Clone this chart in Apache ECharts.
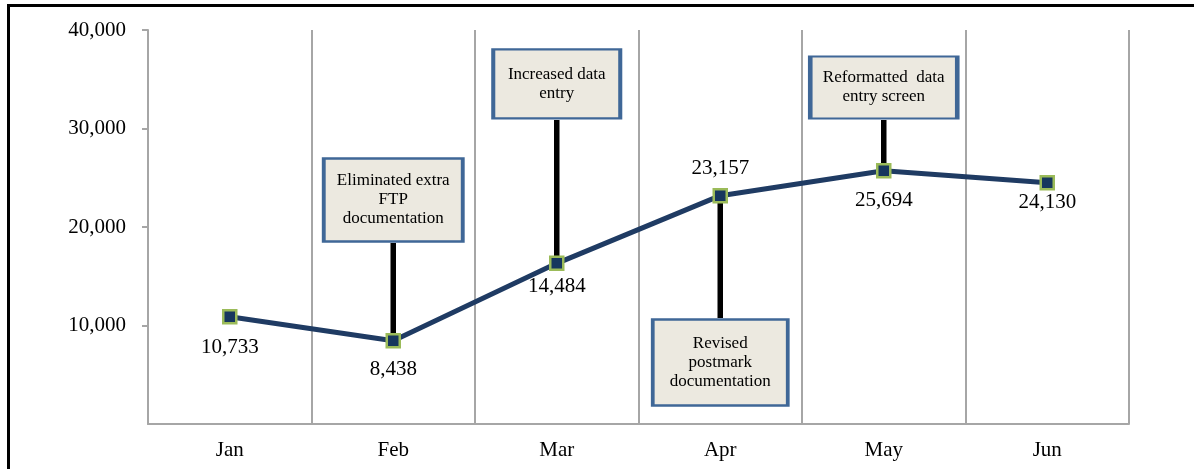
<!DOCTYPE html>
<html>
<head>
<meta charset="utf-8">
<script src="https://cdn.jsdelivr.net/npm/echarts@6/dist/echarts.min.js"></script>
<style>
  html, body { margin: 0; padding: 0; background: #fff; overflow: hidden; }
  #main { width: 1194px; height: 469px; }
  #frame { position: absolute; left: 7px; top: 4px; width: 1300px; height: 600px;
           border-left: 3px solid #000; border-top: 3px solid #000; pointer-events: none; }
</style>
</head>
<body>
<div id="main"></div>
<div id="frame"></div>
<script>
// data
var months = ['Jan', 'Feb', 'Mar', 'Apr', 'May', 'Jun'];
var values = [10890, 8460, 16310, 23180, 25720, 24500];
var valueLabels = ['10,733', '8,438', '14,484', '23,157', '25,694', '24,130'];
var yTicks = [10000, 20000, 30000, 40000];

// call-out notes
var noteMonths = ['Feb', 'Mar', 'Apr', 'May'];
var noteTexts = [
  'Eliminated extra\nFTP\ndocumentation',
  'Increased data\nentry',
  'Revised\npostmark\ndocumentation',
  'Reformatted  data\nentry screen'
];
var noteEnds = [18380, 30860, 10760, 30860];      // where the stick meets the box
var noteCenters = [22740, 34520, 6240, 34160];    // middle of the box

var font = '"Liberation Serif", "Times New Roman", serif';
var gray = '#A6A6A6';

// label placement / box size, per point and per note
var labelPos = ['bottom', 'bottom', 'bottom', 'top', 'bottom', 'bottom'];
var labelGap = [13, 11, 5, 9, 12, 2];
var noteSizes = [[139, 83], [127, 69], [135, 86], [147, 62]];

var myChart = echarts.init(document.getElementById('main'));

var lineData = [];
for (var i = 0; i < values.length; i++) {
  lineData.push({
    value: values[i],
    label: { position: labelPos[i], distance: labelGap[i] }
  });
}

var notePoints = [];
for (var j = 0; j < noteMonths.length; j++) {
  notePoints.push({
    name: noteTexts[j],
    coord: [noteMonths[j], noteCenters[j]],
    symbolSize: noteSizes[j]
  });
}

var seriesList = [];
// black sticks from the points to the notes
for (var k = 0; k < noteMonths.length; k++) {
  var m = noteMonths[k];
  seriesList.push({
    type: 'line',
    data: [[m, values[months.indexOf(m)]], [m, noteEnds[k]]],
    symbol: 'none',
    silent: true,
    z: 1,
    lineStyle: { color: '#000', width: 5.5 }
  });
}

seriesList.push({
  type: 'line',
  data: lineData,
  z: 3,
  symbol: 'rect',
  symbolSize: 13,
  itemStyle: { color: '#17375E', borderColor: '#9BBB59', borderWidth: 2.5 },
  lineStyle: { color: '#1F3B63', width: 5 },
  label: {
    show: true,
    color: '#000',
    fontFamily: font,
    fontSize: 21,
    formatter: function(p) { return valueLabels[p.dataIndex]; }
  },
  markPoint: {
    symbol: 'rect',
    silent: true,
    itemStyle: { color: '#ECE9E0', borderColor: '#3F6797', borderWidth: 3 },
    label: {
      show: true,
      position: 'inside',
      formatter: '{b}',
      color: '#000',
      fontFamily: font,
      fontSize: 17,
      lineHeight: 19
    },
    data: notePoints
  }
});

var option = {
  animation: false,
  grid: { left: 148, right: 65, top: 30, bottom: 45 },
  xAxis: {
    type: 'category',
    data: months,
    boundaryGap: true,
    axisLine: { lineStyle: { color: gray, width: 2 } },
    axisTick: { show: false },
    splitLine: { show: true, lineStyle: { color: gray, width: 2 } },
    axisLabel: { color: '#000', fontFamily: font, fontSize: 21, margin: 16 }
  },
  yAxis: {
    type: 'value',
    min: 0,
    max: 40000,
    interval: 10000,
    axisLine: { show: true, lineStyle: { color: gray, width: 2 } },
    axisTick: { show: true, length: 6, customValues: yTicks, lineStyle: { color: gray, width: 2 } },
    splitLine: { show: false },
    axisLabel: {
      color: '#000',
      fontFamily: font,
      fontSize: 21,
      margin: 22,
      formatter: function(v) {
        if (v === 0) return '';
        return v.toLocaleString('en-US');
      }
    }
  },
  series: seriesList
};
myChart.setOption(option);
</script>
</body>
</html>
